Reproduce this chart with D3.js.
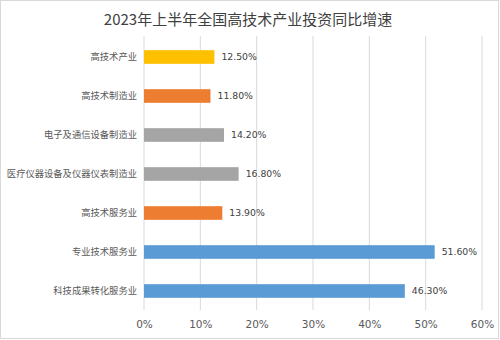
<!DOCTYPE html>
<html><head><meta charset="utf-8">
<script src="https://cdn.jsdelivr.net/npm/d3@7"></script>
<style>html,body{margin:0;padding:0;background:#fff;}</style>
</head><body>
<svg id="c" width="500" height="340"></svg>
<script>
const title = "2023年上半年全国高技术产业投资同比增速";
const categories = ["高技术产业","高技术制造业","电子及通信设备制造业","医疗仪器设备及仪器仪表制造业","高技术服务业","专业技术服务业","科技成果转化服务业"];
const values = [12.5, 11.8, 14.2, 16.8, 13.9, 51.6, 46.3];
const barColors = ["#FFC000","#ED7D31","#A5A5A5","#A5A5A5","#ED7D31","#5B9BD5","#5B9BD5"];
const xTicks = [0,10,20,30,40,50,60];

const svg = d3.select("#c");
svg.append("rect").attr("x",0.5).attr("y",0.5).attr("width",498).attr("height",338)
  .attr("fill","#fff").attr("stroke","#D9D9D9");

const x = d3.scaleLinear().domain([0,60]).range([144,482]);
const y = d3.scaleBand().domain(categories).range([37.5,310.5]).paddingInner(0.65).paddingOuter(0.325);

svg.append("text").attr("x",248).attr("y",25).attr("text-anchor","middle")
  .attr("font-family","'Noto Sans CJK SC', 'Noto Sans', sans-serif").attr("font-size",15)
  .attr("fill","#404040").text(title);

// gridlines
svg.append("g").selectAll("line").data(xTicks).join("line")
  .attr("x1",d=>x(d)).attr("x2",d=>x(d)).attr("y1",36).attr("y2",310)
  .attr("stroke","#D9D9D9").attr("stroke-width",1);

// x axis
const xa = svg.append("g").attr("transform","translate(0,310)")
  .call(d3.axisBottom(x).tickValues(xTicks).tickFormat(d=>d+"%").tickSize(0).tickPadding(11));
xa.select(".domain").remove();
xa.selectAll("text").attr("font-family","'DejaVu Sans', sans-serif").attr("font-size",10.5).attr("fill","#595959");

// y axis labels
const ya = svg.append("g").attr("transform","translate(144,0)")
  .call(d3.axisLeft(y).tickSize(0).tickPadding(7));
ya.select(".domain").remove();
ya.selectAll("text").attr("font-family","'Noto Sans CJK SC', sans-serif").attr("font-size",9.3).attr("fill","#595959");

const data = categories.map((c,i)=>({c, v:values[i], col:barColors[i]}));
svg.append("g").selectAll("rect").data(data).join("rect")
  .attr("x",x(0)).attr("y",d=>y(d.c)).attr("width",d=>x(d.v)-x(0)).attr("height",y.bandwidth())
  .attr("fill",d=>d.col);

svg.append("g").selectAll("text").data(data).join("text")
  .attr("x",d=>x(d.v)+7).attr("y",d=>y(d.c)+y.bandwidth()/2).attr("dy","0.35em")
  .attr("font-family","'DejaVu Sans', sans-serif").attr("font-size",9.3).attr("fill","#404040")
  .text(d=>d.v.toFixed(2)+"%");
</script>
</body></html>
